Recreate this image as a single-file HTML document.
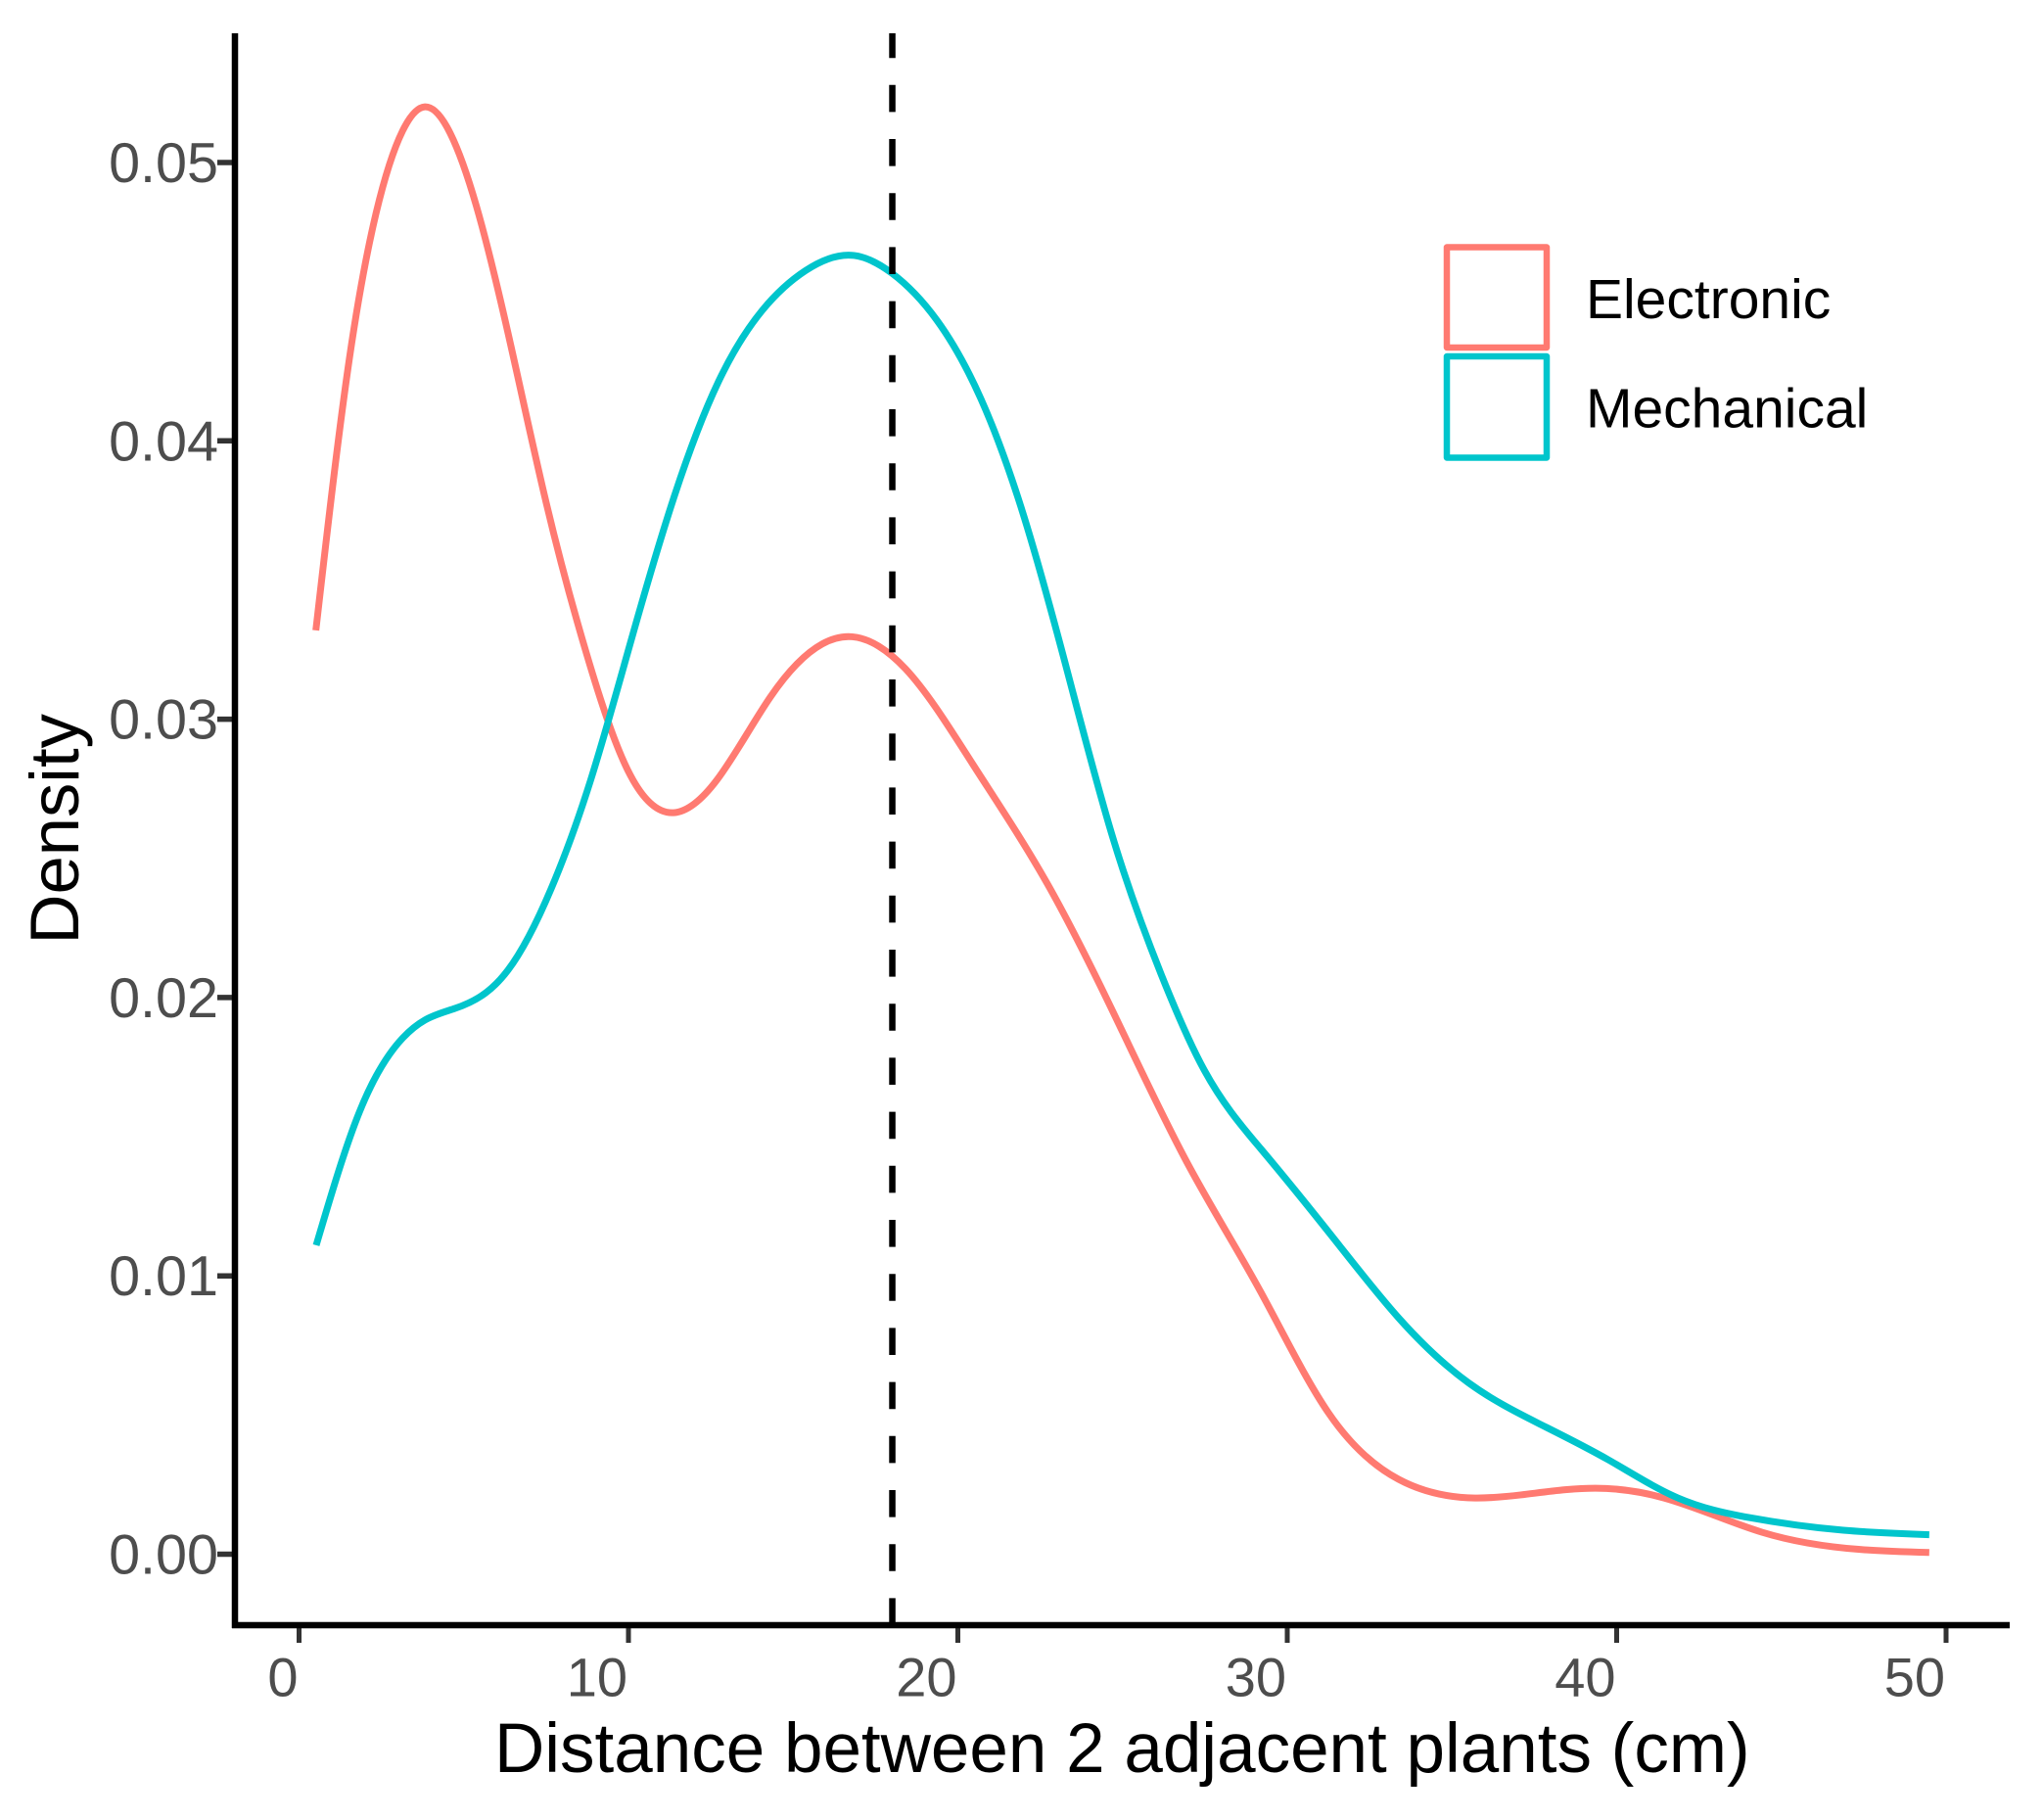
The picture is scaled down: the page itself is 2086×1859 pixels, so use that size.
<!DOCTYPE html>
<html lang="en">
<head>
<meta charset="utf-8">
<title>Density of distance between adjacent plants</title>
<style>
html,body{margin:0;padding:0;background:#fff;}
svg{display:block;font-family:"Liberation Sans",Arial,sans-serif;}
</style>
</head>
<body>
<svg id="chart" xmlns="http://www.w3.org/2000/svg" width="2086" height="1859" viewBox="0 0 2086 1859">
  <rect x="0" y="0" width="2086" height="1859" fill="#ffffff"/>
  <g id="x-ticks"></g>
  <g id="y-ticks"></g>
  <g id="series"></g>
  <line id="mean-line" stroke="#000" stroke-width="6.5" stroke-dasharray="27.6 27.6"/>
  <line x1="240" y1="34" x2="240" y2="1663" stroke="#000" stroke-width="6.5"/>
  <line x1="237" y1="1660" x2="2053" y2="1660" stroke="#000" stroke-width="6.5"/>
  <text x="505" y="1810" font-size="71" fill="#000">Distance between 2 adjacent plants (cm)</text>
  <text transform="translate(80,964.5) rotate(-90)" font-size="70.6" fill="#000">Density</text>
  <g>
    <g>
      <rect x="1478" y="252.5" width="102" height="102.5" fill="#fff" stroke="#ff7a71" stroke-width="6.5" stroke-linejoin="round"/>
      <text x="1620" y="325" font-size="57" fill="#000">Electronic</text>
    </g>
    <g>
      <rect x="1478" y="364" width="102" height="103.5" fill="#fff" stroke="#00c5cc" stroke-width="6.5" stroke-linejoin="round"/>
      <text x="1620" y="436.7" font-size="57" fill="#000">Mechanical</text>
    </g>
  </g>
</svg>
<script>
const xTickValues = [0, 10, 20, 30, 40, 50];
const xTickLabels = ["0", "10", "20", "30", "40", "50"];
const yTickValues = [0, 0.01, 0.02, 0.03, 0.04, 0.05];
const yTickLabels = ["0.00", "0.01", "0.02", "0.03", "0.04", "0.05"];
const referenceX = 18.01;

const electronicX = [0.51,1.53,2.33,3.14,3.82,4.59,5.38,6.43,7.50,8.72,10.06,11.37,12.70,14.31,15.88,16.80,17.60,18.41,20.46,22.72,24.83,26.95,29.20,31.25,33.38,35.70,37.09,39.36,41.44,44.41,47.39,49.49];
const electronicDensity = [0.03319,0.04297,0.04814,0.05113,0.05200,0.05105,0.04845,0.04342,0.03779,0.03238,0.02798,0.02664,0.02784,0.03080,0.03270,0.03296,0.03262,0.03181,0.02837,0.02408,0.01919,0.01409,0.00941,0.00508,0.00269,0.00202,0.00213,0.00237,0.00202,0.00079,0.00017,0.00006];

const mechanicalX = [0.52,1.83,3.15,3.82,4.74,5.55,6.34,7.65,8.86,10.09,11.40,12.73,14.07,15.38,16.85,17.99,19.36,20.70,22.01,23.35,24.69,26.17,27.48,29.20,31.46,33.38,35.50,37.61,39.75,41.86,44.00,46.88,49.49];
const mechanicalDensity = [0.01110,0.01588,0.01855,0.01919,0.01961,0.02007,0.02098,0.02390,0.02784,0.03287,0.03804,0.04212,0.04470,0.04612,0.04666,0.04603,0.04434,0.04151,0.03727,0.03160,0.02580,0.02084,0.01739,0.01456,0.01127,0.00849,0.00616,0.00471,0.00339,0.00202,0.00132,0.00086,0.00070];

const NS = 'http://www.w3.org/2000/svg';
function scaleX(v) { return 305.5 + v * 33.65; }
function scaleY(v) { return 1587.5 - v * 28430; }

// Natural cubic spline through the data, emitted as Bezier segments.
function smoothPath(xs, ys) {
  const X = xs.map(scaleX);
  const Y = ys.map(scaleY);
  const n = X.length;
  const h = [];
  for (let i = 0; i < n - 1; i++) h.push(X[i + 1] - X[i]);
  const M = new Array(n).fill(0);
  const c = new Array(n).fill(0);
  const r = new Array(n).fill(0);
  for (let i = 1; i < n - 1; i++) {
    const a = h[i - 1];
    const b = 2 * (h[i - 1] + h[i]);
    const rhs = 6 * ((Y[i + 1] - Y[i]) / h[i] - (Y[i] - Y[i - 1]) / h[i - 1]);
    const den = b - a * c[i - 1];
    c[i] = h[i] / den;
    r[i] = (rhs - a * r[i - 1]) / den;
  }
  for (let i = n - 2; i > 0; i--) M[i] = r[i] - c[i] * M[i + 1];
  let d = 'M' + X[0].toFixed(2) + ' ' + Y[0].toFixed(2);
  for (let i = 0; i < n - 1; i++) {
    const s = (Y[i + 1] - Y[i]) / h[i];
    const m0 = s - h[i] * (2 * M[i] + M[i + 1]) / 6;
    const m1 = s + h[i] * (M[i] + 2 * M[i + 1]) / 6;
    const t = h[i] / 3;
    d += 'C' + (X[i] + t).toFixed(2) + ' ' + (Y[i] + t * m0).toFixed(2) + ' ' + (X[i + 1] - t).toFixed(2) + ' ' + (Y[i + 1] - t * m1).toFixed(2) + ' ' + X[i + 1].toFixed(2) + ' ' + Y[i + 1].toFixed(2);
  }
  return d;
}

const xTicksGroup = document.getElementById('x-ticks');
xTickValues.forEach(function (v, i) {
  const tick = document.createElementNS(NS, 'line');
  
  
  tick.setAttribute('x1', scaleX(v));
  tick.setAttribute('x2', scaleX(v));
  tick.setAttribute('y1', 1660);
  tick.setAttribute('y2', 1678);
  tick.setAttribute('stroke', '#333333');
  tick.setAttribute('stroke-width', 5);
  xTicksGroup.appendChild(tick);
  const label = document.createElementNS(NS, 'text');
  
  
  label.setAttribute('x', scaleX(v) - 1);
  label.setAttribute('y', 1732.5);
  label.setAttribute('text-anchor', 'end');
  label.setAttribute('font-size', 56);
  label.setAttribute('fill', '#4d4d4d');
  label.textContent = xTickLabels[i];
  xTicksGroup.appendChild(label);
});

const yTicksGroup = document.getElementById('y-ticks');
yTickValues.forEach(function (v, i) {
  const tick = document.createElementNS(NS, 'line');
  
  
  tick.setAttribute('x1', 222);
  tick.setAttribute('x2', 240);
  tick.setAttribute('y1', scaleY(v));
  tick.setAttribute('y2', scaleY(v));
  tick.setAttribute('stroke', '#333333');
  tick.setAttribute('stroke-width', 5.5);
  yTicksGroup.appendChild(tick);
  const label = document.createElementNS(NS, 'text');
  
  
  label.setAttribute('x', 223);
  label.setAttribute('y', scaleY(v) + 20);
  label.setAttribute('text-anchor', 'end');
  label.setAttribute('font-size', 57.5);
  label.setAttribute('fill', '#4d4d4d');
  label.textContent = yTickLabels[i];
  yTicksGroup.appendChild(label);
});

const seriesGroup = document.getElementById('series');

const electronicLine = document.createElementNS(NS, 'path');


electronicLine.setAttribute('d', smoothPath(electronicX, electronicDensity));
electronicLine.setAttribute('fill', 'none');
electronicLine.setAttribute('stroke', '#ff7a71');
electronicLine.setAttribute('stroke-width', 7);
electronicLine.setAttribute('stroke-linejoin', 'round');
seriesGroup.appendChild(electronicLine);

const mechanicalLine = document.createElementNS(NS, 'path');


mechanicalLine.setAttribute('d', smoothPath(mechanicalX, mechanicalDensity));
mechanicalLine.setAttribute('fill', 'none');
mechanicalLine.setAttribute('stroke', '#00c5cc');
mechanicalLine.setAttribute('stroke-width', 7);
mechanicalLine.setAttribute('stroke-linejoin', 'round');
seriesGroup.appendChild(mechanicalLine);

const meanLine = document.getElementById('mean-line');
meanLine.setAttribute('x1', scaleX(referenceX));
meanLine.setAttribute('x2', scaleX(referenceX));
meanLine.setAttribute('y1', 1660);
meanLine.setAttribute('y2', 34);
</script>
</body>
</html>
